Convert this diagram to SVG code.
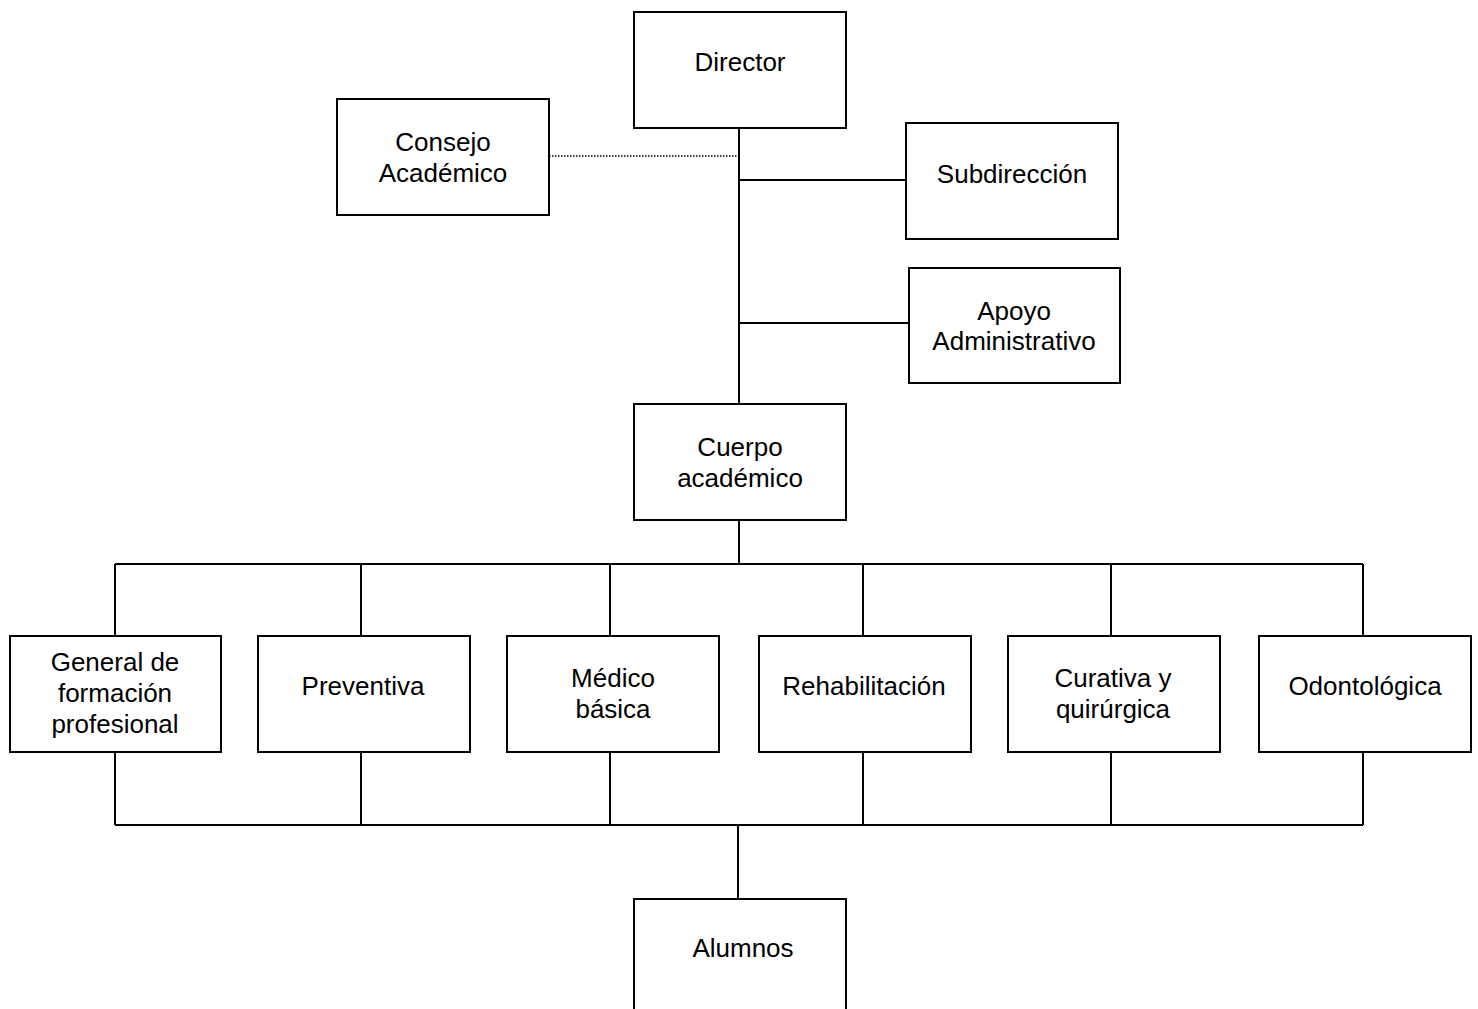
<svg xmlns="http://www.w3.org/2000/svg" width="1478" height="1009" viewBox="0 0 1478 1009">
<style>
.box{fill:#fff;stroke:#000;stroke-width:2}
.ln{fill:none;stroke:#000;stroke-width:2}
.dot{fill:none;stroke:#000;stroke-width:1.5;stroke-dasharray:1.5 1.5}
text{font-family:"Liberation Sans",Arial,sans-serif;font-size:26px;fill:#000;text-anchor:middle}
</style>
<rect width="1478" height="1009" fill="#fff"/>
<g id="connectors">
<path class="ln" d="M739 128V404"/>
<path class="dot" d="M549 156H738"/>
<path class="ln" d="M739 180H906"/>
<path class="ln" d="M739 323H909"/>
<path class="ln" d="M739 520V564"/>
<path class="ln" d="M115 564H1363"/>
<path class="ln" d="M115 564V636M361 564V636M610 564V636M863 564V636M1111 564V636M1363 564V636"/>
<path class="ln" d="M115 752V825M361 752V825M610 752V825M863 752V825M1111 752V825M1363 752V825"/>
<path class="ln" d="M115 825H1363"/>
<path class="ln" d="M738 825V899"/>
</g>
<g id="director"><rect class="box" x="634" y="12" width="212" height="116"/><text x="740" y="71">Director</text></g>
<g id="consejo"><rect class="box" x="337" y="99" width="212" height="116"/><text x="443" y="151">Consejo</text><text x="443" y="182">Académico</text></g>
<g id="subdireccion"><rect class="box" x="906" y="123" width="212" height="116"/><text x="1012" y="183">Subdirección</text></g>
<g id="apoyo"><rect class="box" x="909" y="268" width="211" height="115"/><text x="1014" y="320">Apoyo</text><text x="1014" y="350">Administrativo</text></g>
<g id="cuerpo"><rect class="box" x="634" y="404" width="212" height="116"/><text x="740" y="456">Cuerpo</text><text x="740" y="487">académico</text></g>
<g id="general"><rect class="box" x="10" y="636" width="211" height="116"/><text x="115" y="671">General de</text><text x="115" y="702">formación</text><text x="115" y="733">profesional</text></g>
<g id="preventiva"><rect class="box" x="258" y="636" width="212" height="116"/><text x="363" y="695">Preventiva</text></g>
<g id="medico"><rect class="box" x="507" y="636" width="212" height="116"/><text x="613" y="687">Médico</text><text x="613" y="718">básica</text></g>
<g id="rehabilitacion"><rect class="box" x="759" y="636" width="212" height="116"/><text x="864" y="695">Rehabilitación</text></g>
<g id="curativa"><rect class="box" x="1008" y="636" width="212" height="116"/><text x="1113" y="687">Curativa y</text><text x="1113" y="718">quirúrgica</text></g>
<g id="odontologica"><rect class="box" x="1259" y="636" width="212" height="116"/><text x="1365" y="695">Odontológica</text></g>
<g id="alumnos"><rect class="box" x="634" y="899" width="212" height="130"/><text x="743" y="957">Alumnos</text></g>
</svg>
